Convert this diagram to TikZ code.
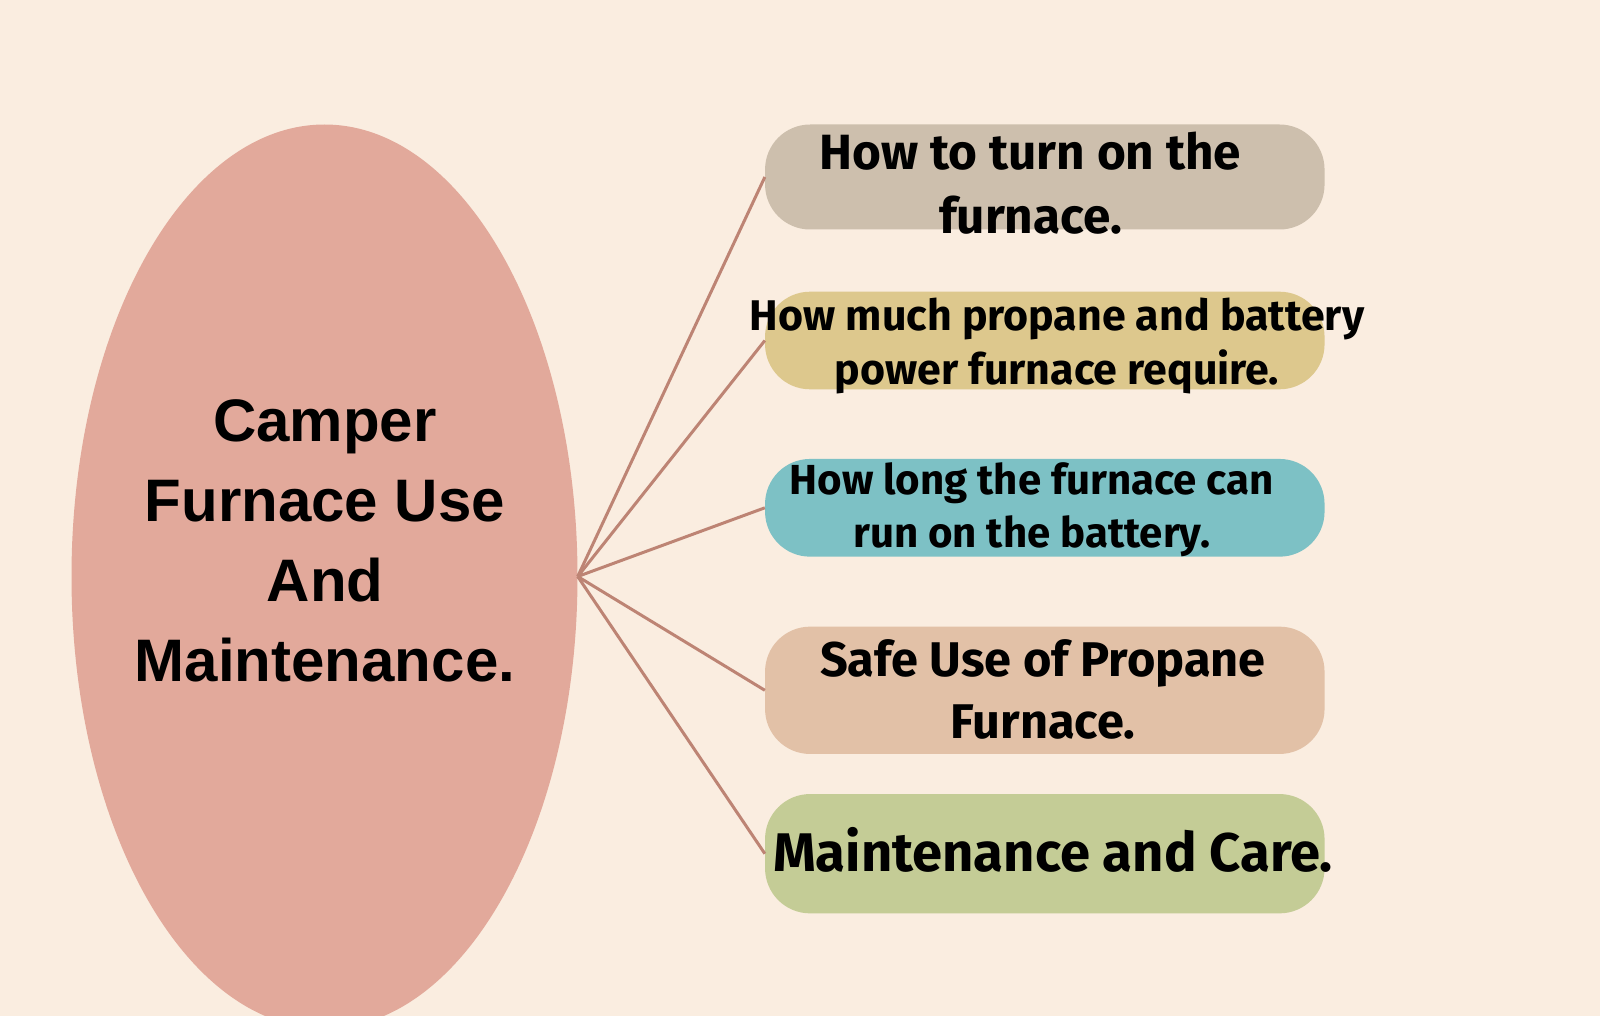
\documentclass[tikz,border=0pt]{standalone}
\usepackage{fontspec}
\setmainfont{Fira Sans}
\newfontfamily\titlefont{Liberation Sans}
\usetikzlibrary{shapes.geometric}
\definecolor{bgc}{HTML}{FAEDE0}
\definecolor{ellc}{HTML}{E2A99B}
\definecolor{linkc}{HTML}{BD8474}
\definecolor{cA}{HTML}{CDBFAD}
\definecolor{cB}{HTML}{DDC88D}
\definecolor{cC}{HTML}{7DC1C5}
\definecolor{cD}{HTML}{E2C1A7}
\definecolor{cE}{HTML}{C4CC96}
\begin{document}
\begin{tikzpicture}[x=1pt,y=-1pt,
  pill/.style={rectangle, rounded corners=45pt, minimum width=559.5pt, inner sep=0pt, draw=none},
  boxtext/.style={align=center, inner sep=0pt, anchor=base, text=black},
  link/.style={draw=linkc, line width=3pt}]
\fill[bgc] (0,0) rectangle (1600,1016);
\useasboundingbox (0,0) rectangle (1600,1016);
\node[ellipse, fill=ellc, minimum width=506pt, minimum height=904pt, inner sep=0pt] (hub) at (324.5,576.5) {};
\node[pill, fill=cA, minimum height=105pt] (b1) at (1044.8,177) {};
\node[pill, fill=cB, minimum height=97.6pt] (b2) at (1044.8,340.5) {};
\node[pill, fill=cC, minimum height=97.7pt] (b3) at (1044.8,507.8) {};
\node[pill, fill=cD, minimum height=127.3pt] (b4) at (1044.8,690.3) {};
\node[pill, fill=cE, minimum height=119.3pt] (b5) at (1044.8,853.7) {};
\foreach \b in {b1,b2,b3,b4,b5} \draw[link] (hub.east) -- (\b.west);
\node[boxtext, font=\bfseries\fontsize{49.5}{64.3}\selectfont] (t1) at (1030.6,234) {How to turn on the\\furnace.};
\node[boxtext, font=\bfseries\fontsize{42.9}{53.5}\selectfont] (t2) at (1057,384) {How much propane and battery\\power furnace require.};
\node[boxtext, font=\bfseries\fontsize{42}{53}\selectfont] (t3) at (1031.6,547.3) {How long the furnace can\\run on the battery.};
\node[boxtext, font=\bfseries\fontsize{48.7}{62.5}\selectfont] (t4) at (1042.9,738.7) {Safe Use of Propane\\Furnace.};
\node[boxtext, font=\bfseries\fontsize{54.4}{64}\selectfont] (t5) at (1053,871.7) {Maintenance and Care.};
\node[boxtext, font=\titlefont\bfseries\fontsize{60}{80}\selectfont] (title) at (325,681) {Camper\\Furnace Use\\And\\Maintenance.};
\end{tikzpicture}
\end{document}
